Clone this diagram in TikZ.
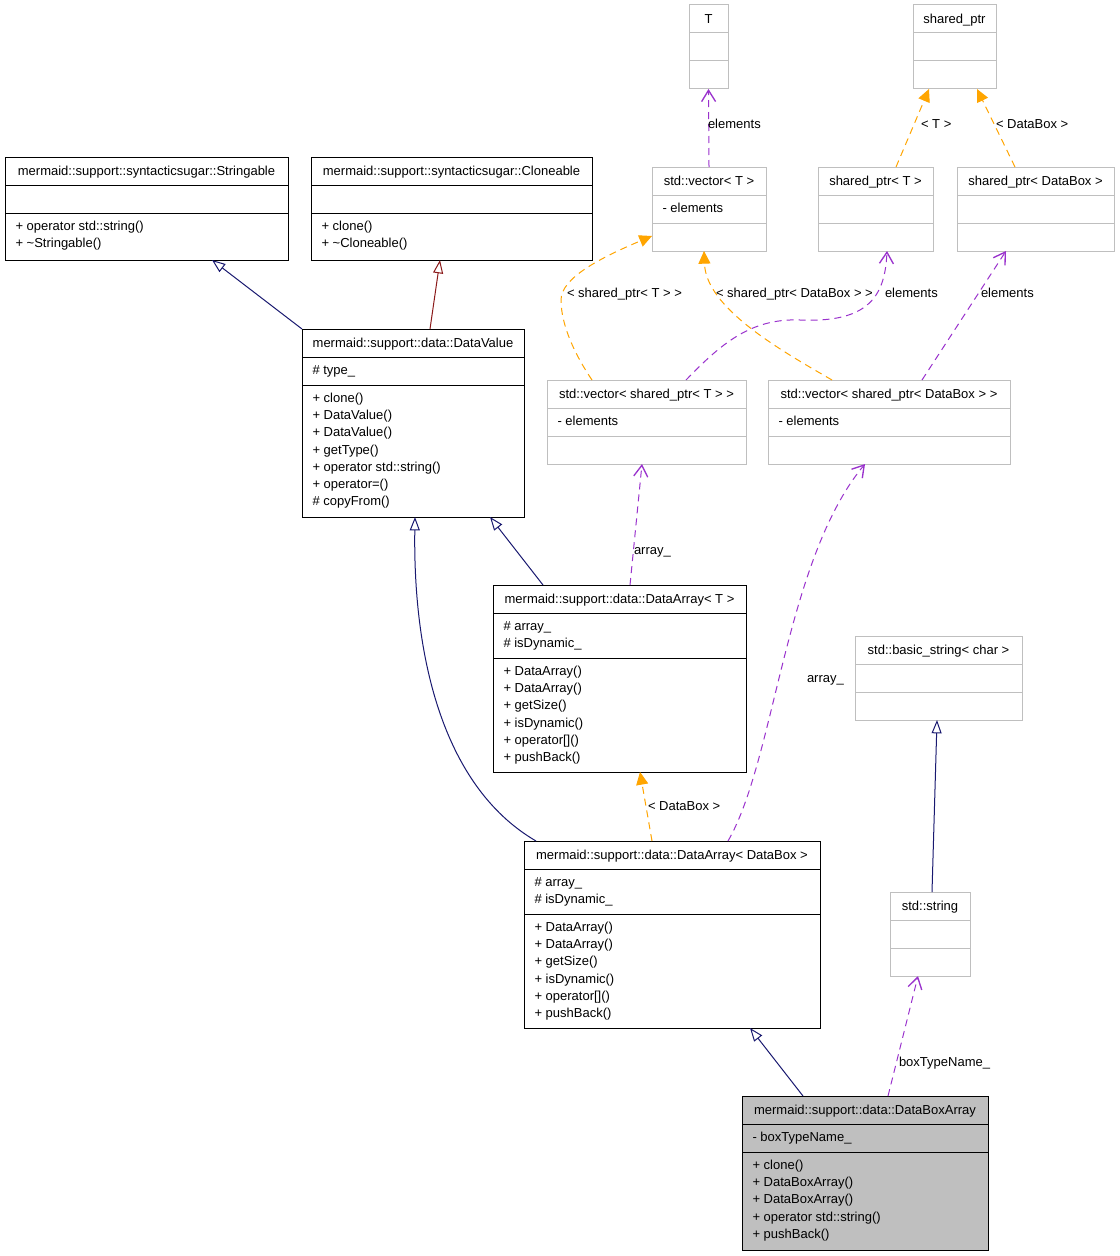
\documentclass[tikz,border=0pt]{standalone}
\usepackage{fontspec}
\setmainfont{Liberation Sans}
\usetikzlibrary{arrows.meta, calc}

\definecolor{inhpub}{HTML}{191970}
\definecolor{inhpriv}{HTML}{8B1A1A}
\definecolor{tmplorange}{HTML}{FFA500}
\definecolor{usepurple}{HTML}{9A32CD}
\definecolor{extgrey}{HTML}{BFBFBF}

\newcommand{\dxfont}{\fontsize{9.75pt}{12.9pt}\selectfont}

% style, name, corner, width, attribute height, method height, title, attributes, methods
\newcommand{\umlclass}[9]{%
  \node[#1, minimum width={#4*0.75pt}, minimum height={(28+#5+#6)*0.75pt}] (#2) at (#3) {};
  \draw[#1 sep] ($(#2.north west)+(0,28)$) -- ($(#2.north east)+(0,28)$);
  \draw[#1 sep] ($(#2.north west)+(0,28+#5)$) -- ($(#2.north east)+(0,28+#5)$);
  \node[cls title] (#2-t) at ($(#2.north)+(0,6.4)$) {\strut #7};
  \node[cls text] (#2-a) at ($(#2.north west)+(10.5,33.5)$) {\strut #8};
  \node[cls text] (#2-m) at ($(#2.north west)+(10.5,33.5+#5)$) {\strut #9};
}

\begin{document}
\begin{tikzpicture}[x=0.75pt, y=-0.75pt,
    every node/.style={font=\dxfont, inner sep=0pt, outer sep=0pt},
    uml/.style={rectangle, draw=black, line width=0.75pt, fill=white, anchor=north west},
    uml sep/.style={draw=black, line width=0.75pt},
    umlext/.style={uml, draw=extgrey},
    umlext sep/.style={draw=extgrey, line width=0.75pt},
    umlfocus/.style={uml, fill=extgrey},
    umlfocus sep/.style={uml sep},
    cls title/.style={anchor=north},
    cls text/.style={anchor=north west, align=left},
    lbl/.style={anchor=base west},
    inhpub/.style={draw=inhpub, line width=0.75pt, -{Triangle[open, length=10pt, width=7.5pt]}},
    inhpriv/.style={inhpub, draw=inhpriv},
    tmpl/.style={draw=tmplorange, fill=none, line width=0.75pt, dash pattern=on 5.25pt off 3.75pt,
      -{Triangle[length=9.5pt, width=9pt, fill=tmplorange]}},
    usage/.style={draw=usepurple, line width=0.75pt, dash pattern=on 5.25pt off 3.75pt,
      -{Straight Barb[length=8.5pt, width=10.5pt, line width=1pt]}}]
  \path[use as bounding box, fill=white] (0,0) rectangle (1120,1256);

  % classes
  \umlclass{uml}{strg}{5,157}{283}{28}{47}{mermaid::support::syntacticsugar::Stringable}{}{+ operator std::string()\\+ \textasciitilde Stringable()}
  \umlclass{uml}{clon}{311,157}{281}{28}{47}{mermaid::support::syntacticsugar::Cloneable}{}{+ clone()\\+ \textasciitilde Cloneable()}
  \umlclass{uml}{dval}{302,329}{222}{28}{132}{mermaid::support::data::DataValue}{\# type\_}{+ clone()\\+ DataValue()\\+ DataValue()\\+ getType()\\+ operator std::string()\\+ operator=()\\\# copyFrom()}
  \umlclass{umlext}{tpar}{689,5}{39}{28}{28}{T}{}{}
  \umlclass{umlext}{sptr}{913,5}{83}{28}{28}{shared\_ptr}{}{}
  \umlclass{umlext}{vecT}{652,167}{114}{28}{28}{std::vector< T >}{- elements}{}
  \umlclass{umlext}{sptrT}{818,167}{115}{28}{28}{shared\_ptr< T >}{}{}
  \umlclass{umlext}{sptrDB}{957,167}{157}{28}{28}{shared\_ptr< DataBox >}{}{}
  \umlclass{umlext}{vecSpT}{547,380}{199}{28}{28}{std::vector< shared\_ptr< T > >}{- elements}{}
  \umlclass{umlext}{vecSpDB}{768,380}{242}{28}{28}{std::vector< shared\_ptr< DataBox > >}{- elements}{}
  \umlclass{uml}{darrT}{493,585}{253}{45}{114}{mermaid::support::data::DataArray< T >}{\# array\_\\\# isDynamic\_}{+ DataArray()\\+ DataArray()\\+ getSize()\\+ isDynamic()\\+ operator[]()\\+ pushBack()}
  \umlclass{umlext}{bstr}{855,636}{167}{28}{28}{std::basic\_string< char >}{}{}
  \umlclass{uml}{darrDB}{524,841}{296}{45}{114}{mermaid::support::data::DataArray< DataBox >}{\# array\_\\\# isDynamic\_}{+ DataArray()\\+ DataArray()\\+ getSize()\\+ isDynamic()\\+ operator[]()\\+ pushBack()}
  \umlclass{umlext}{str}{890,892}{80}{28}{28}{std::string}{}{}
  \umlclass{umlfocus}{dbarr}{742,1096}{246}{28}{98}{mermaid::support::data::DataBoxArray}{- boxTypeName\_}{+ clone()\\+ DataBoxArray()\\+ DataBoxArray()\\+ operator std::string()\\+ pushBack()}

  % inheritance
  \draw[inhpub] (dval.north west) -- ($(strg.south west)+(207,0)$);
  \draw[inhpriv] ($(dval.north west)+(128,0)$) -- ($(clon.south west)+(129,0)$);
  \draw[inhpub] ($(darrT.north west)+(50,0)$) -- ($(dval.south west)+(188,0)$);
  \draw[inhpub] ($(darrDB.north west)+(12,0)$) .. controls (440,785) and (413,650) .. ($(dval.south west)+(113,0)$);
  \draw[inhpub] ($(str.north west)+(42,0)$) -- ($(bstr.south west)+(82,0)$);
  \draw[inhpub] ($(dbarr.north west)+(61,0)$) -- ($(darrDB.south west)+(226,0)$);

  % template instances
  \draw[tmpl] ($(darrDB.north west)+(128,0)$) -- ($(darrT.south west)+(147,0)$);
  \draw[tmpl] ($(vecSpT.north west)+(45,0)$) .. controls (575,355) and (561,325) .. (561,300)
    .. controls (561,278) and (600,258) .. ($(vecT.south west)+(0,-15)$);
  \draw[tmpl] ($(vecSpDB.north west)+(64,0)$) .. controls (780,350) and (706,308) .. ($(vecT.south west)+(52,0)$);
  \draw[tmpl] ($(sptrT.north west)+(78,0)$) -- ($(sptr.south west)+(16,0)$);
  \draw[tmpl] ($(sptrDB.north west)+(58,0)$) -- ($(sptr.south west)+(64,0)$);

  % usage
  \draw[usage] ($(darrDB.north west)+(204,0)$) .. controls (775,760) and (785,560) .. ($(vecSpDB.south west)+(97,0)$);
  \draw[usage] ($(darrT.north west)+(137,0)$) -- ($(vecSpT.south west)+(95,0)$);
  \draw[usage] ($(vecSpT.north west)+(139,0)$) .. controls (720,345) and (750,318) .. (800,320)
    .. controls (870,323) and (885,295) .. ($(sptrT.south west)+(69,0)$);
  \draw[usage] ($(vecSpDB.north west)+(154,0)$) -- ($(sptrDB.south west)+(49,0)$);
  \draw[usage] (vecT.north) -- (tpar.south);
  \draw[usage] ($(dbarr.north west)+(146,0)$) -- ($(str.south west)+(28,0)$);

  % edge labels
  \node[lbl] (l-elemT) at (708,128) {elements};
  \node[lbl] (l-tT) at (921,128) {< T >};
  \node[lbl] (l-tDB) at (996,128) {< DataBox >};
  \node[lbl] (l-spT) at (567,297) {< shared\_ptr< T > >};
  \node[lbl] (l-spDB) at (716,297) {< shared\_ptr< DataBox > >};
  \node[lbl] (l-elemSpT) at (885,297) {elements};
  \node[lbl] (l-elemSpDB) at (981,297) {elements};
  \node[lbl] (l-arrT) at (634,554) {array\_};
  \node[lbl] (l-arrDB) at (807,682) {array\_};
  \node[lbl] (l-darr) at (648,810) {< DataBox >};
  \node[lbl] (l-box) at (899,1066) {boxTypeName\_};
\end{tikzpicture}
\end{document}
